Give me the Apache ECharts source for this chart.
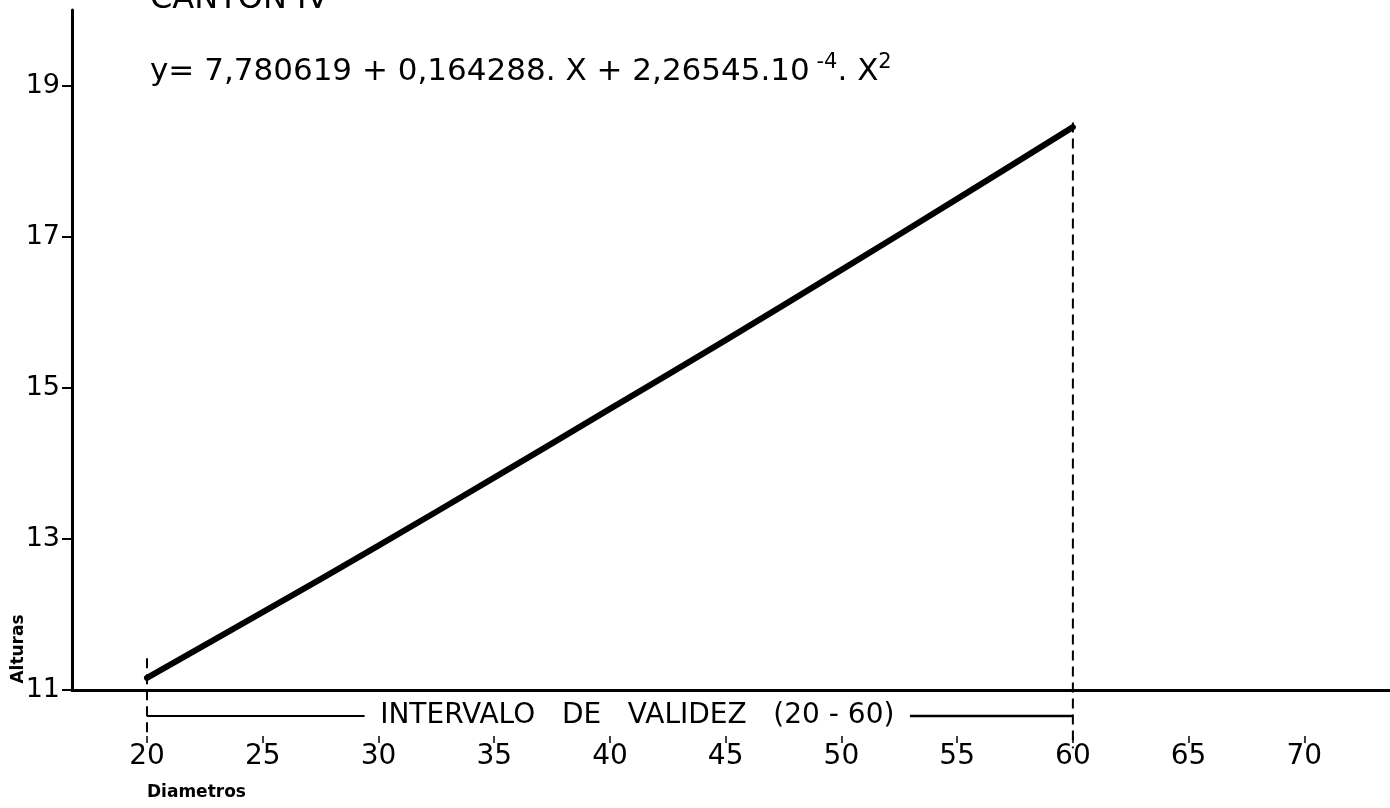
<!DOCTYPE html>
<html>
<head>
<meta charset="utf-8">
<script src="https://cdn.jsdelivr.net/npm/echarts@6/dist/echarts.min.js"></script>
<style>
html,body{margin:0;padding:0;background:#fff;}
#chart{width:1390px;height:808px;}
</style>
</head>
<body>
<div id="chart"></div>
<script>
// ---- data ----
const diametros = [20, 25, 30, 35, 40, 45, 50, 55, 60];
const alturas = [11.16, 12.03, 12.91, 13.81, 14.72, 15.63, 16.56, 17.50, 18.45];
const xTickValues = [20, 25, 30, 35, 40, 45, 50, 55, 60, 65, 70];
const yTickValues = [11, 13, 15, 17, 19];
const validezRango = [20, 60];            // interval of validity
const guia20 = [11.42, 10.38];            // dashed guide at x=20 (top, bottom)
const guia60 = [18.51, 10.23];            // dashed guide at x=60 (top, bottom)
const intervaloNivel = [10.655];          // height of the interval arrow line
const intervaloHueco = [29.4, 52.96];     // gap for the interval caption
const intervaloTexto = ['INTERVALO   DE   VALIDEZ   (20 - 60)'];
const tituloTexto = ['CANTON IV'];
const ecuacionPartes = ['y= 7,780619 + 0,164288. X + 2,26545.10', ' -4', '. X', '2'];

const xMin = 16.76, xMax = 73.7;
const FONT = 'DejaVu Sans';

const chart = echarts.init(document.getElementById('chart'), null, {renderer: 'canvas'});

const lvl = intervaloNivel[0];
const option = {
  animation: false,
  backgroundColor: '#ffffff',
  grid: {left: 72, right: 0, top: 10, bottom: 118, containLabel: false},
  xAxis: [
    {
      type: 'value', min: xMin, max: xMax,
      axisLine: {onZero: false, lineStyle: {color: '#000', width: 3}},
      axisTick: {show: false},
      splitLine: {show: false},
      axisLabel: {customValues: xTickValues, margin: 53, fontSize: 28, color: '#000', fontFamily: FONT}
    },
    {
      type: 'value', min: xMin, max: xMax, position: 'bottom', offset: 53,
      axisLine: {show: false, onZero: false},
      axisTick: {show: true, inside: true, length: 7, customValues: xTickValues, lineStyle: {color: '#000', width: 1.5}},
      axisLabel: {show: false},
      splitLine: {show: false}
    }
  ],
  yAxis: {
    type: 'value', min: 11, max: 20,
    axisLine: {show: true, onZero: false, lineStyle: {color: '#000', width: 3}},
    axisTick: {show: true, length: 10, customValues: yTickValues, lineStyle: {color: '#000', width: 2}},
    axisLabel: {customValues: yTickValues, margin: 12, fontSize: 27, color: '#000', fontFamily: FONT},
    splitLine: {show: false}
  },
  series: [
    {
      name: 'Alturas', type: 'line', xAxisIndex: 0,
      data: diametros.map((d, i) => [d, alturas[i]]),
      showSymbol: false, symbol: 'none', smooth: 0.3,
      lineStyle: {color: '#000', width: 6, cap: 'round'},
      z: 5
    },
    {
      type: 'line', clip: false, symbol: 'none',
      data: [[validezRango[0], guia20[0]], [validezRango[0], guia20[1]]],
      lineStyle: {color: '#000', width: 2, type: [10, 6]}
    },
    {
      type: 'line', clip: false, symbol: 'none',
      data: [[validezRango[1], guia60[0]], [validezRango[1], guia60[1]]],
      lineStyle: {color: '#000', width: 2, type: [10, 6]}
    },
    {
      type: 'line', clip: false, symbol: 'none',
      data: [[validezRango[0], lvl], [intervaloHueco[0], lvl]],
      lineStyle: {color: '#000', width: 2}
    },
    {
      type: 'line', clip: false, symbol: 'none',
      data: [[intervaloHueco[1], lvl], [validezRango[1], lvl]],
      lineStyle: {color: '#000', width: 2.5}
    },
    {
      type: 'scatter', clip: false, symbolSize: 0,
      itemStyle: {opacity: 1},
      data: [[(intervaloHueco[0] + intervaloHueco[1]) / 2, lvl]],
      label: {show: true, position: 'inside', formatter: intervaloTexto[0], fontSize: 28, color: '#000', opacity: 1, fontFamily: FONT},
      emphasis: {disabled: true}
    }
  ],
  graphic: [
    {type: 'text', left: 150, top: -16, style: {text: tituloTexto[0], fontSize: 32, fontFamily: FONT, fill: '#000'}},
    {type: 'text', left: 150, top: 52, style: {
      text: '{m|' + ecuacionPartes[0] + '}{s|' + ecuacionPartes[1] + '}{m|' + ecuacionPartes[2] + '}{s|' + ecuacionPartes[3] + '}',
      fill: '#000', fontFamily: FONT,
      rich: {
        m: {fontSize: 31, lineHeight: 40, fontFamily: FONT, fill: '#000'},
        s: {fontSize: 21, lineHeight: 21, fontFamily: FONT, fill: '#000', verticalAlign: 'top'}
      }
    }},
    {type: 'text', left: 147, top: 784, style: {text: 'Diametros', fontSize: 17, fontWeight: 'bold', fontFamily: FONT, fill: '#000'}},
    {type: 'text', x: 19, y: 649, rotation: Math.PI / 2,
     style: {text: 'Alturas', fontSize: 17, fontWeight: 'bold', fontFamily: FONT, fill: '#000', align: 'center', verticalAlign: 'middle'}}
  ]
};
chart.setOption(option);
</script>
</body>
</html>
